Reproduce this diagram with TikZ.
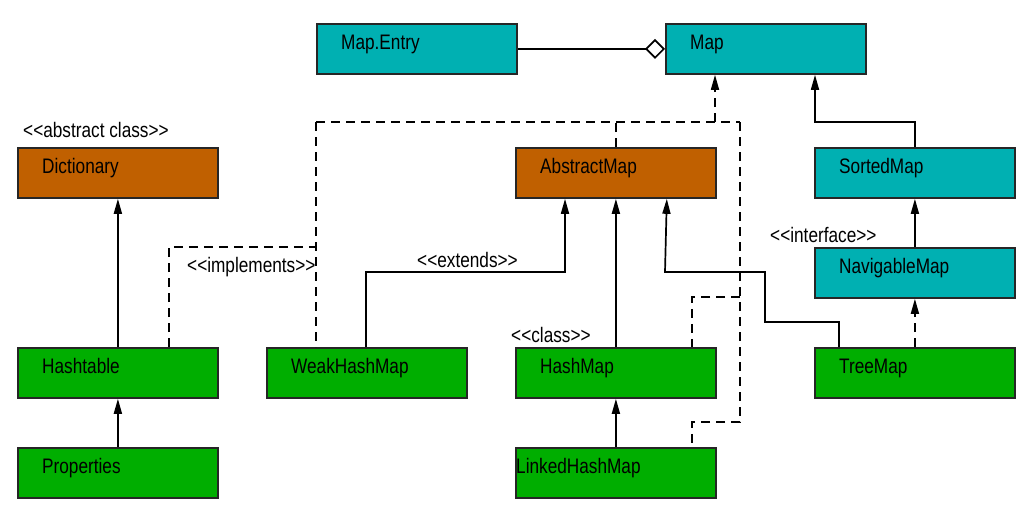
\documentclass[tikz,border=0pt]{standalone}
\usepackage{fontspec}
\setmainfont{Liberation Sans}[FakeStretch=0.82]
\usetikzlibrary{arrows.meta}
\definecolor{ifc}{RGB}{0,176,178}
\definecolor{abc}{RGB}{192,96,0}
\definecolor{clc}{RGB}{0,174,0}
\newcommand{\st}[1]{<\kern0pt<#1>\kern0pt>}
\tikzset{
  box/.style={rectangle, draw=black!85, line width=1.8pt, minimum width=200pt, minimum height=50pt, inner sep=0pt, anchor=north west},
  txt/.style={anchor=base west, inner sep=0pt, font=\fontsize{21pt}{24pt}\selectfont},
  inh/.style={line width=1.7pt, -{Triangle[length=15pt,width=8pt]}},
  realz/.style={line width=1.7pt, dash pattern=on 9pt off 6pt, -{Triangle[length=15pt,width=8pt]}},
  dsh/.style={line width=1.7pt, dash pattern=on 9pt off 6pt},
}
\begin{document}
\begin{tikzpicture}[x=1pt,y=-1pt]
\useasboundingbox (0,0) rectangle (1027,517);
% boxes
\node[box, fill=ifc] (me) at (316,23) {};
\node[box, fill=ifc] (map) at (665,23) {};
\node[box, fill=abc] (dict) at (17,147) {};
\node[box, fill=abc] (am) at (515,147) {};
\node[box, fill=ifc] (sm) at (814,147) {};
\node[box, fill=ifc] (nm) at (814,247) {};
\node[box, fill=clc] (ht) at (17,347) {};
\node[box, fill=clc] (wh) at (266,347) {};
\node[box, fill=clc] (hm) at (515,347) {};
\node[box, fill=clc] (tm) at (814,347) {};
\node[box, fill=clc] (prop) at (17,447) {};
\node[box, fill=clc] (lhm) at (515,447) {};
% box texts
\node[txt] (tme) at ([shift={(25,26)}]me.north west) {Map.Entry};
\node[txt] (tmap) at ([shift={(25,26)}]map.north west) {Map};
\node[txt] (tdict) at ([shift={(25,26)}]dict.north west) {Dictionary};
\node[txt] (tam) at ([shift={(25,26)}]am.north west) {AbstractMap};
\node[txt] (tsm) at ([shift={(25,26)}]sm.north west) {SortedMap};
\node[txt] (tnm) at ([shift={(25,26)}]nm.north west) {NavigableMap};
\node[txt] (tht) at ([shift={(25,26)}]ht.north west) {Hashtable};
\node[txt] (twh) at ([shift={(25,26)}]wh.north west) {WeakHashMap};
\node[txt] (thm) at ([shift={(25,26)}]hm.north west) {HashMap};
\node[txt] (ttm) at ([shift={(25,26)}]tm.north west) {TreeMap};
\node[txt] (tprop) at ([shift={(25,26)}]prop.north west) {Properties};
\node[txt] (tlhm) at ([shift={(1,26)}]lhm.north west) {LinkedHashMap};
% stereotype labels
\node[txt] (labs) at (23,137) {\st{abstract class}};
\node[txt] (limp) at (187,272) {\st{implements}};
\node[txt] (lext) at (417,267) {\st{extends}};
\node[txt] (lint) at (770,242) {\st{interface}};
\node[txt] (lcls) at (511,342) {\st{class}};
% aggregation
\draw[line width=1.7pt, -{Diamond[open, fill=white, length=20pt, width=20pt]}] (me.east) -- (map.west);
% dashed realization network
\coordinate (dL) at (316,122);
\coordinate (dR) at (740,122);
\coordinate (dM) at (715,122);
\draw[dsh] (dL) -- (dR);
\draw[realz] (dM) -- ([xshift=50pt]map.south west);
\draw[dsh] (am.north) -- (am.north |- dL);
\draw[dsh] (dL) -- ([xshift=50pt]wh.north west);
\draw[dsh] ([xshift=-50pt]ht.north east) |- (316,247);
\draw[dsh] (dR) -- (740,422) -| ([xshift=-25pt]lhm.north east);
\draw[dsh] (740,297) -| ([xshift=-25pt]hm.north east);
% solid inheritance
\draw[inh] (ht.north) -- (dict.south);
\draw[inh] (prop.north) -- (ht.south);
\draw[inh] ([xshift=100pt]wh.north west) |- (565,272) -- ([xshift=50pt]am.south west);
\draw[inh] (hm.north) -- (am.south);
\draw[inh] ([xshift=25pt]tm.north west) |- (765,322) |- (665,272) -- ([xshift=-50pt]am.south east);
\draw[inh] (lhm.north) -- (hm.south);
\draw[inh] (sm.north) |- (815,122) -- ([xshift=150pt]map.south west);
\draw[inh] (nm.north) -- (sm.south);
\draw[realz] (tm.north) -- (nm.south);
\end{tikzpicture}
\end{document}
